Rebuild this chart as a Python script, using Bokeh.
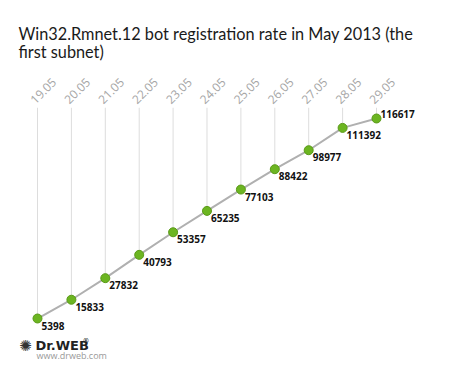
from math import pi
from bokeh.plotting import figure
from bokeh.models import Range1d, Label, FixedTicker, CustomJSTickFormatter, ColumnDataSource
from bokeh.embed import file_html
from bokeh.resources import INLINE
from bokeh.core.properties import value

dates = ["19.05", "20.05", "21.05", "22.05", "23.05", "24.05", "25.05", "26.05", "27.05", "28.05", "29.05"]
bots = [5398, 15833, 27832, 40793, 53357, 65235, 77103, 88422, 98977, 111392, 116617]
title_lines = ["Win32.Rmnet.12 bot registration rate in May 2013 (the", "first subnet)"]

idx = list(range(len(dates)))
src = ColumnDataSource(dict(x=idx, y=bots))

p = figure(width=450, height=374, output_backend="svg", toolbar_location=None,
           x_axis_location="above", y_axis_location=None,
           x_range=Range1d(-1.0914, 12.183), y_range=Range1d(-25742, 122732),
           min_border_left=0, min_border_right=0, min_border_bottom=0, min_border_top=107)
p.outline_line_color = None
p.grid.visible = False
p.background_fill_color = "white"
p.border_fill_color = "white"

p.title.text = "\n".join(title_lines)
p.title.text_font = "Lato"
p.title.text_font_size = "16.3px"
p.title.text_font_style = "normal"
p.title.text_color = "#1a1a1a"
p.title.text_line_height = 0.96
p.title.offset = 18
p.title.standoff = 18

ax = p.xaxis[0]
# rotated labels start slightly left of each date's drop line
ax.ticker = FixedTicker(ticks=[i - 0.15 for i in idx])
ax.formatter = CustomJSTickFormatter(args=dict(labels=dates), code="return labels[Math.round(tick)] || '';")
ax.major_label_orientation = pi / 4
ax.major_label_text_font = "Open Sans"
ax.major_label_text_font_size = "12px"
ax.major_label_text_color = "#a6a6a6"
ax.axis_line_color = None
ax.major_tick_line_color = None
ax.minor_tick_line_color = None
ax.major_label_standoff = 0

# drop lines from the top of the frame to each point
p.segment(x0="x", y0="y", x1="x", y1=p.y_range.end, source=src, line_color="#dddddd", line_width=1)

p.line(x="x", y="y", source=src, line_color="#b0b0b0", line_width=2)
p.scatter(x="x", y="y", source=src, size=9, fill_color="#6cb521", line_color="#5a9a18", line_width=1)

lsrc = ColumnDataSource(dict(x=idx[:-1], y=bots[:-1], lab=[str(b) for b in bots[:-1]]))
p.text(x="x", y="y", text="lab", source=lsrc, x_offset=4, y_offset=3,
       text_font=value("Open Sans"), text_font_size="10px", text_font_style="bold",
       text_color="#111111", text_baseline="top", text_align="left")
p.add_layout(Label(x=idx[-1], y=bots[-1], text=str(bots[-1]), x_offset=4, y_offset=4,
                   text_font="Open Sans", text_font_size="10px", text_font_style="bold",
                   text_color="#111111", text_baseline="alphabetic", text_align="left"))

# logo
p.add_layout(Label(x=-0.354, y=-9616, text="✺", text_font="DejaVu Sans", text_font_size="15px",
                   text_color="#333333", text_baseline="middle", text_align="center"))
p.add_layout(Label(x=-0.059, y=-9616, text="Dr.WEB", text_font="DejaVu Sans", text_font_size="13px",
                   text_font_style="bold", text_color="#222222", text_baseline="middle"))
p.add_layout(Label(x=1.33, y=-7300, text="®", text_font="DejaVu Sans", text_font_size="7px",
                   text_color="#222222", text_baseline="middle"))
p.add_layout(Label(x=-0.03, y=-15176, text="www.drweb.com", text_font="Open Sans", text_font_size="9px",
                   text_color="#999999", text_baseline="middle"))

open("out.html", "w").write(file_html(p, INLINE))
